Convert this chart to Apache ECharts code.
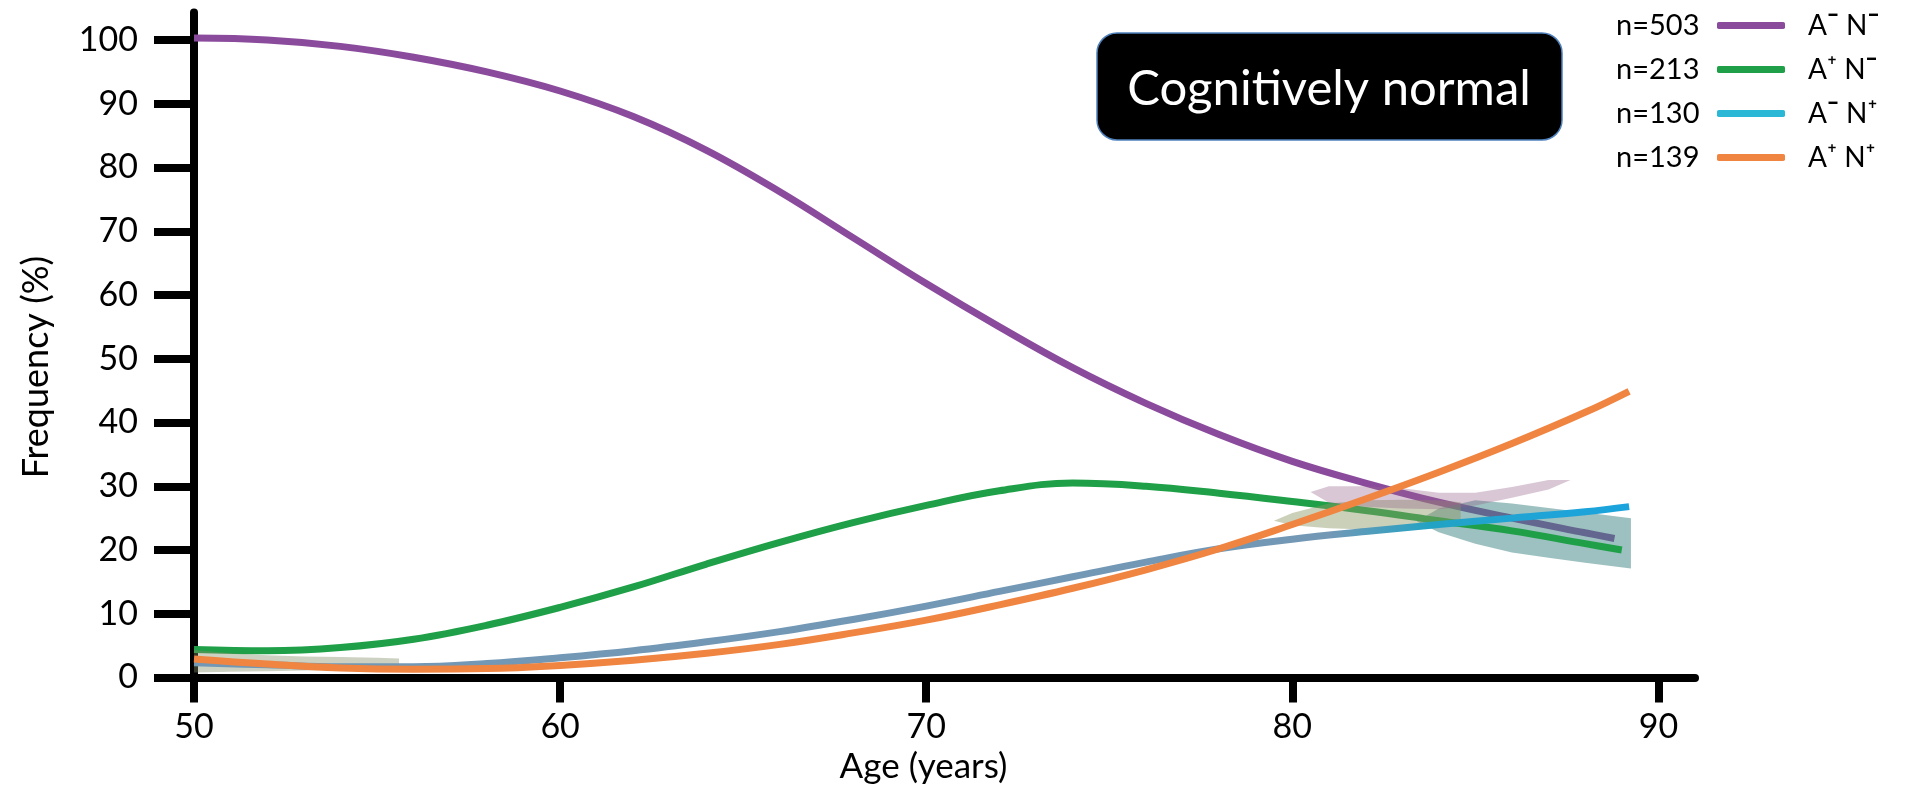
<!DOCTYPE html>
<html>
<head>
<meta charset="utf-8">
<script src="https://cdn.jsdelivr.net/npm/echarts@6/dist/echarts.min.js"></script>
<style>
  html, body { margin: 0; padding: 0; background: #fff; }
  #chart { width: 1917px; height: 791px; }
</style>
</head>
<body>
<div id="chart"></div>
<script>
// ---------- data ----------
const xTicks = [50, 60, 70, 80, 90];
const yTicks = [0, 10, 20, 30, 40, 50, 60, 70, 80, 90, 100];

const ageGrid = [50, 52, 54, 56, 58, 60, 62, 64, 66, 68, 70, 72, 74, 76, 78, 80, 82, 84, 86, 88];

// A- N-  (n=503)
const purpleAges = [...ageGrid, 88.8];
const purpleVals = [100.3, 100.0, 99.0, 97.3, 95.0, 92.0, 88.0, 82.7, 76.2, 69.0, 61.8, 55.0, 48.6, 43.0, 38.1, 33.9, 30.5, 27.5, 25.0, 22.7, 21.8];
// A+ N-  (n=213)
const greenAges = [...ageGrid, 89.0];
const greenVals = [4.4, 4.2, 4.7, 6.0, 8.2, 11.0, 14.2, 17.8, 21.2, 24.3, 27.0, 29.3, 30.5, 30.0, 28.9, 27.6, 26.2, 24.6, 23.0, 21.0, 20.0];
// A- N+  (n=130)
const blueAges = [...ageGrid, 89.2];
const blueVals = [2.3, 2.0, 1.7, 1.7, 2.2, 3.1, 4.2, 5.6, 7.2, 9.1, 11.2, 13.5, 15.8, 18.1, 20.2, 21.7, 22.9, 24.0, 25.0, 26.0, 26.8];
// A+ N+  (n=139)
const orangeAges = [...ageGrid, 89.2];
const orangeVals = [2.9, 2.1, 1.5, 1.3, 1.4, 1.9, 2.7, 3.8, 5.2, 7.0, 9.0, 11.4, 14.0, 16.9, 20.2, 24.0, 28.0, 32.2, 36.7, 41.6, 44.9];

// confidence bands
const bandLowAges  = [50, 51, 52, 53, 54, 55, 55.6];
const bandLowUpper = [4.3, 3.8, 3.5, 3.3, 3.2, 3.1, 3.0];
const bandLowLower = [0.8, 0.9, 1.0, 1.1, 1.2, 1.4, 1.6];

const bandMauveAges  = [80.5, 81, 82, 83, 84, 85, 86, 87, 87.6];
const bandMauveUpper = [29.1, 30.0, 30.0, 29.7, 29.0, 29.0, 29.9, 31.0, 31.0];
const bandMauveLower = [29.1, 27.4, 26.8, 26.5, 26.4, 27.0, 28.2, 29.5, 31.0];

const bandGreyAges  = [79.5, 80, 81, 82, 83, 84, 84.6];
const bandGreyUpper = [24.6, 25.8, 27.3, 27.8, 27.9, 27.8, 27.5];
const bandGreyLower = [24.6, 23.9, 23.4, 23.2, 23.3, 23.7, 24.3];

const bandTealAges  = [83.4, 84, 85, 86, 87, 88, 89.25];
const bandTealUpper = [24.5, 26.5, 27.8, 27.3, 26.6, 25.9, 25.0];
const bandTealLower = [24.5, 22.8, 21.0, 19.6, 18.8, 18.0, 17.1];

const groupNames  = ['A- N-', 'A+ N-', 'A- N+', 'A+ N+'];
const groupCounts = ['n=503', 'n=213', 'n=130', 'n=139'];
const groupColors = ['#8b4b9d', '#1fa048', '#2ab8d6', '#f08541'];

// ---------- helpers ----------
const pairs = (xs, ys) => xs.map((x, i) => [x, ys[i]]);

function bandSeries(ages, upper, lower, fill, z) {
  return {
    type: 'custom',
    z: z,
    silent: true,
    data: [[ages[0], upper[0]]],
    renderItem: function (params, api) {
      const pts = [];
      for (let i = 0; i < ages.length; i++) pts.push(api.coord([ages[i], upper[i]]));
      for (let i = ages.length - 1; i >= 0; i--) pts.push(api.coord([ages[i], lower[i]]));
      return { type: 'polygon', shape: { points: pts }, style: { fill: fill } };
    }
  };
}

function lineSeries(name, xs, ys, color, z) {
  return {
    name: name,
    type: 'line',
    z: z,
    smooth: 0.4,
    showSymbol: false,
    symbol: 'none',
    data: pairs(xs, ys),
    itemStyle: { color: typeof color === 'string' ? color : groupColors[2] },
    lineStyle: { color: color, width: 7, cap: 'butt' },
    emphasis: { disabled: true }
  };
}

const chart = echarts.init(document.getElementById('chart'), null, { renderer: 'canvas' });

const blueGradient = new echarts.graphic.LinearGradient(0, 0, 1, 0, [
  { offset: 0, color: '#7298b6' },
  { offset: 0.79, color: '#7298b6' },
  { offset: 0.86, color: '#22a3c4' },
  { offset: 0.93, color: '#1fa4d6' },
  { offset: 1, color: '#1aa3dd' }
]);

const FONT = 'Lato, "Open Sans", sans-serif';

const option = {
  animation: false,
  backgroundColor: '#ffffff',
  grid: { left: 194, right: 222, top: 12.6, bottom: 113.5, containLabel: false },
  xAxis: {
    type: 'value',
    min: 50, max: 91,
    name: 'Age (years)',
    nameLocation: 'middle',
    nameGap: 72,
    nameTextStyle: { fontFamily: FONT, fontSize: 35, color: '#000', padding: [0, 42, 0, 0] },
    splitLine: { show: false },
    axisLine: { onZero: true, lineStyle: { color: '#000', width: 8 } },
    axisTick: { show: true, length: 25, lineStyle: { color: '#000', width: 8 }, customValues: xTicks },
    axisLabel: { margin: 33, fontFamily: FONT, fontSize: 34, color: '#000', customValues: xTicks }
  },
  yAxis: {
    type: 'value',
    min: 0, max: 104.3,
    name: 'Frequency (%)',
    nameLocation: 'middle',
    nameRotate: 90,
    nameGap: 140,
    nameTextStyle: { fontFamily: FONT, fontSize: 36, color: '#000', padding: [0, 44, 0, 0] },
    splitLine: { show: false },
    axisLine: { show: true, lineStyle: { color: '#000', width: 8 } },
    axisTick: { show: true, length: 40, lineStyle: { color: '#000', width: 8 }, customValues: yTicks },
    axisLabel: { margin: 56, fontFamily: FONT, fontSize: 34, color: '#000', customValues: yTicks }
  },
  legend: [
    {
      orient: 'vertical',
      left: 1616, top: 10.5,
      padding: 0,
      align: 'right',
      icon: 'roundRect',
      itemWidth: 68, itemHeight: 7,
      itemGap: 14,
      selectedMode: false,
      data: groupNames.map((n, i) => ({ name: n, itemStyle: { color: groupColors[i] } })),
      formatter: function (name) { return '{n|' + groupCounts[groupNames.indexOf(name)] + '}'; },
      textStyle: {
        lineHeight: 30,
        rich: { n: { fontFamily: FONT, fontSize: 29, lineHeight: 30, height: 30, width: 96, align: 'left', color: '#000' } }
      }
    },
    {
      orient: 'vertical',
      left: 1802, top: 10.5,
      padding: 0,
      align: 'left',
      icon: 'roundRect',
      itemWidth: 1, itemHeight: 7,
      itemGap: 14,
      selectedMode: false,
      itemStyle: { opacity: 0 },
      lineStyle: { opacity: 0 },
      data: groupNames.map((n) => ({ name: n, itemStyle: { color: 'rgba(255,255,255,0)', opacity: 0 } })),
      formatter: function (name) {
        const a = name.charAt(1) === '+' ? '{s|⁺}' : '{m|¯}';
        const b = name.charAt(4) === '+' ? '{s|⁺}' : '{m|¯}';
        return '{t|A}' + a + '{t| N}' + b;
      },
      textStyle: {
        lineHeight: 30,
        rich: {
          t: { fontFamily: FONT, fontSize: 28, lineHeight: 30, color: '#000' },
          m: { fontFamily: FONT, fontSize: 30, fontWeight: 'bold', lineHeight: 30, color: '#000' },
          s: { fontFamily: FONT, fontSize: 30, lineHeight: 30, color: '#000' }
        }
      }
    }
  ],
  graphic: [
    {
      type: 'rect',
      shape: { x: 1097, y: 33, width: 465, height: 107, r: 20 },
      style: { fill: '#000', stroke: '#4f81bd', lineWidth: 1.5 },
      z: 10
    },
    {
      type: 'text',
      z: 11,
      style: { text: 'Cognitively normal', x: 1329, y: 89, fill: '#fff', font: '49px ' + FONT, align: 'center', verticalAlign: 'middle' }
    }
  ],
  series: [
    lineSeries(groupNames[0], purpleAges, purpleVals, groupColors[0], 2),
    bandSeries(bandTealAges, bandTealUpper, bandTealLower, 'rgba(60,130,130,0.5)', 3),
    lineSeries(groupNames[1], greenAges, greenVals, groupColors[1], 4),
    bandSeries(bandLowAges, bandLowUpper, bandLowLower, 'rgba(130,140,100,0.4)', 5),
    bandSeries(bandGreyAges, bandGreyUpper, bandGreyLower, 'rgba(140,150,100,0.45)', 5),
    bandSeries(bandMauveAges, bandMauveUpper, bandMauveLower, 'rgba(150,100,140,0.36)', 5),
    lineSeries(groupNames[2], blueAges, blueVals, blueGradient, 6),
    lineSeries(groupNames[3], orangeAges, orangeVals, groupColors[3], 7)
  ]
};

chart.setOption(option);
</script>
</body>
</html>
